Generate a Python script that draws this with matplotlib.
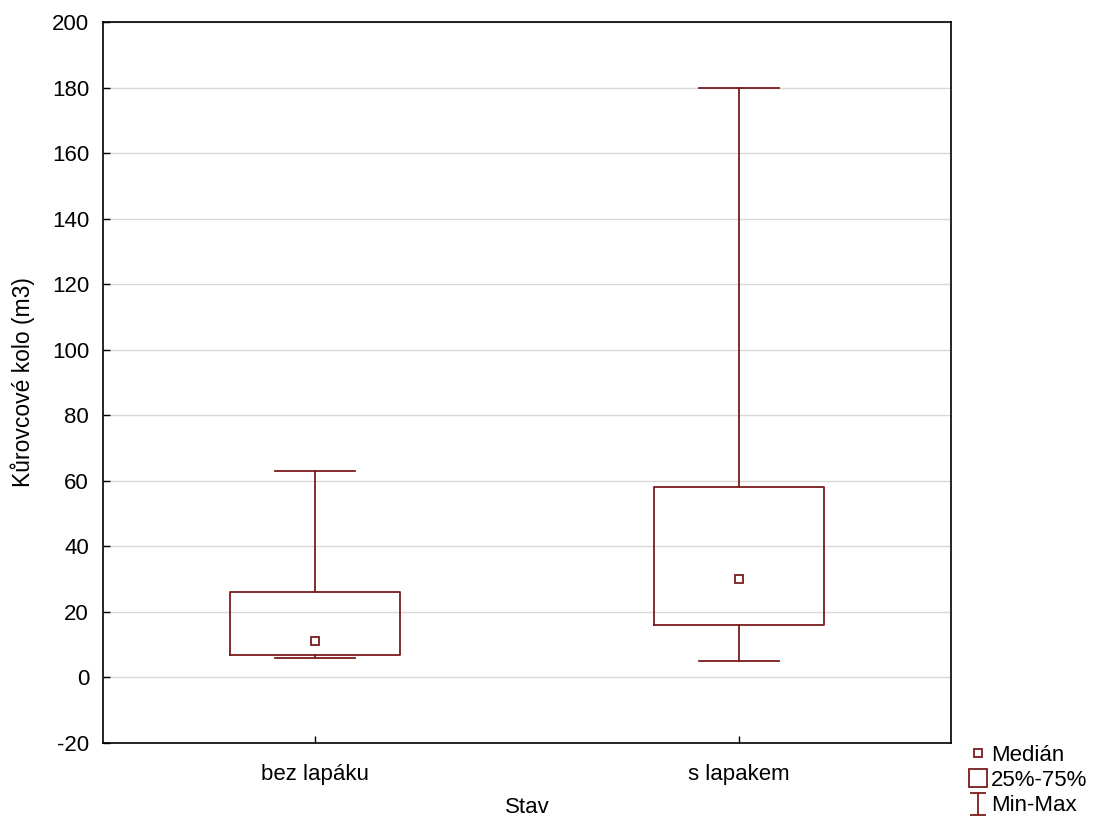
import matplotlib.pyplot as plt
import matplotlib
from matplotlib.lines import Line2D
from matplotlib.path import Path

matplotlib.rcParams['font.family'] = ['Liberation Sans', 'DejaVu Sans']
matplotlib.rcParams['font.size'] = 16
matplotlib.rcParams['axes.unicode_minus'] = False

categories = ["bez lapáku", "s lapakem"]
mins = [6, 5]
q1s = [7, 16]
medians = [11, 30]
q3s = [26, 58]
maxs = [63, 180]
yticks = [-20, 0, 20, 40, 60, 80, 100, 120, 140, 160, 180, 200]

col = '#7a1c1c'

fig = plt.figure(figsize=(10.98, 8.23), dpi=100)
ax = fig.add_axes([0.0938, 0.0972, 0.7723, 0.8761])

pos = list(range(len(categories)))
stats = []
for i in pos:
    stats.append({'med': medians[i], 'q1': q1s[i], 'q3': q3s[i],
                  'whislo': mins[i], 'whishi': maxs[i], 'fliers': []})

ax.bxp(stats, positions=pos, widths=0.4, capwidths=0.19, showfliers=False,
       boxprops={'color': col, 'linewidth': 1.3},
       whiskerprops={'color': col, 'linewidth': 1.3},
       capprops={'color': col, 'linewidth': 1.3},
       medianprops={'visible': False}, zorder=3)
ax.plot(pos, medians, 's', ms=6, mfc='white', mec=col, mew=1.3, ls='none', zorder=4)

ax.set_xlim(-0.5, 1.5)
ax.set_ylim(-20, 200)
ax.set_yticks(yticks)
ax.set_xticks(pos)
ax.set_xticklabels(categories)
ax.yaxis.grid(True, color='#d8d8d8', linewidth=1)
ax.set_axisbelow(True)
ax.tick_params(direction='in', length=5, width=1, colors='black', labelsize=16)
ax.tick_params(axis='y', pad=10)
ax.tick_params(axis='x', pad=15)
for s in ax.spines.values():
    s.set_linewidth(1.2)

ax.set_ylabel("Kůrovcové kolo (m3)", fontsize=16.5, labelpad=12)
ax.set_xlabel("Stav", fontsize=16, labelpad=9)

ibeam = Path([(-0.7, 1), (0.7, 1), (0, 1), (0, -1), (-0.7, -1), (0.7, -1)],
             [Path.MOVETO, Path.LINETO, Path.MOVETO, Path.LINETO, Path.MOVETO, Path.LINETO])
handles = [
    Line2D([], [], marker='s', ms=6, mfc='white', mec=col, mew=1.3, ls='none'),
    Line2D([], [], marker='s', ms=13, mfc='white', mec=col, mew=1.3, ls='none'),
    Line2D([], [], marker=ibeam, ms=16, mfc='none', mec=col, mew=1.3, ls='none'),
]
fig.legend(handles, ["Medián", "25%-75%", "Min-Max"], loc='lower left',
           bbox_to_anchor=(0.866, -0.011), frameon=False, fontsize=16,
           handlelength=1.0, handletextpad=0.1, labelspacing=0.2, borderpad=0.2)

plt.savefig('out.png', dpi=100)
